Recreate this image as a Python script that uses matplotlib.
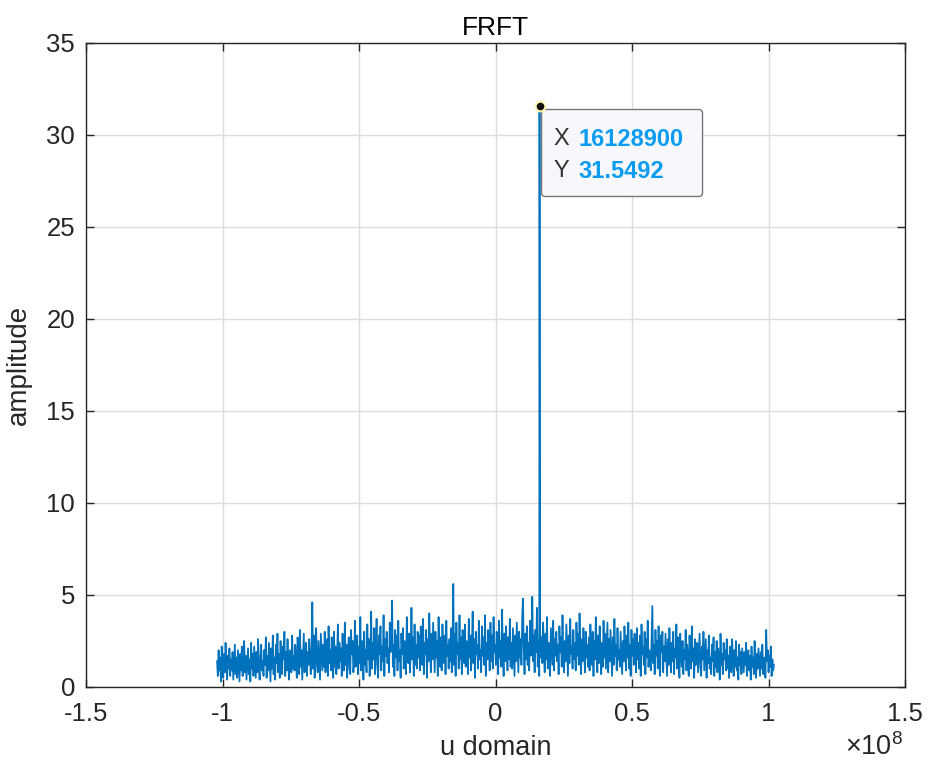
import matplotlib
matplotlib.use("Agg")
import matplotlib.pyplot as plt
from matplotlib.patches import FancyBboxPatch
from matplotlib.transforms import IdentityTransform
import numpy as np

plt.rcParams['font.family'] = ['Liberation Sans', 'DejaVu Sans']

# FRFT amplitude, left to right (u from -1.02e8 to 1.02e8)
noise_amp = [
    1.4, 0.6, 2.0, 0.9, 1.6, 0.3, 2.2, 1.1, 0.5, 1.8, 0.8, 2.4, 1.2, 0.4, 1.7, 1.0, 2.1, 0.6, 1.5, 0.9,
    1.9, 0.4, 1.3, 2.3, 0.7, 1.6, 0.5, 2.0, 1.1, 0.3, 1.8, 0.9, 2.2, 0.6, 1.4, 2.5, 0.8, 1.7, 0.4, 1.2,
    2.1, 0.7, 1.5, 0.3, 2.4, 1.0, 1.8, 0.6, 2.2, 1.3, 0.5, 1.9, 0.8, 2.6, 1.1, 0.4, 1.6, 2.3, 0.9, 1.4,
    0.6, 2.0, 1.2, 2.7, 0.5, 1.7, 0.9, 2.4, 1.4, 0.3, 2.1, 1.0, 2.8, 0.7, 1.6, 0.4, 2.3, 1.3, 2.9, 0.8,
    1.8, 0.5, 2.5, 1.1, 0.7, 2.2, 1.5, 3.0, 0.6, 1.9, 0.9, 2.6, 1.2, 0.4, 2.0, 1.6, 0.8, 2.8, 1.0, 1.7,
    0.9, 2.3, 1.3, 0.5, 2.7, 1.8, 0.7, 3.1, 1.1, 2.0, 0.4, 1.6, 2.9, 0.8, 1.4, 2.4, 0.6, 1.9, 1.2, 2.6,
    1.5, 0.7, 2.2, 4.6, 1.0, 2.8, 0.5, 1.7, 3.2, 1.2, 0.8, 2.5, 1.4, 0.4, 2.9, 1.9, 0.9, 2.3, 1.1, 3.0,
    0.8, 1.8, 2.6, 0.6, 3.3, 1.3, 2.0, 0.9, 2.7, 1.5, 0.5, 3.0, 1.1, 2.2, 0.7, 1.7, 3.4, 1.0, 2.4, 1.4,
    2.1, 0.6, 2.9, 1.6, 0.9, 3.5, 1.2, 2.3, 0.5, 1.9, 2.7, 1.0, 0.7, 3.1, 1.8, 2.5, 0.8, 1.4, 3.6, 1.1,
    1.7, 2.8, 0.7, 2.2, 1.3, 3.8, 0.9, 2.5, 1.6, 0.4, 3.0, 1.2, 2.0, 0.8, 3.4, 1.5, 2.6, 0.6, 1.9, 4.1,
    1.0, 2.4, 1.5, 3.2, 0.7, 2.0, 3.7, 1.2, 0.5, 2.8, 1.8, 3.3, 0.9, 2.2, 1.4, 3.9, 0.6, 2.6, 1.7, 3.0,
    1.3, 2.1, 0.8, 3.5, 1.9, 2.6, 4.7, 1.1, 2.3, 0.6, 3.1, 1.6, 2.8, 0.9, 3.6, 1.4, 2.0, 0.5, 2.9, 1.8,
    3.2, 1.0, 2.5, 1.7, 0.7, 3.8, 2.2, 1.3, 2.9, 0.8, 1.9, 4.3, 1.5, 2.7, 0.6, 3.4, 1.2, 2.3, 1.0, 3.0,
    1.6, 2.8, 0.9, 3.3, 2.0, 1.2, 3.7, 0.7, 2.4, 1.8, 3.1, 0.5, 2.6, 1.4, 4.0, 2.1, 0.8, 2.9, 1.5, 3.5,
    2.2, 0.8, 3.0, 1.6, 2.5, 0.6, 3.8, 1.9, 1.1, 2.7, 0.9, 3.4, 2.0, 1.3, 2.8, 0.7, 3.6, 1.7, 2.3, 1.0,
    2.6, 1.4, 3.2, 0.8, 2.1, 5.6, 1.2, 2.9, 0.6, 3.5, 1.8, 2.4, 1.0, 3.9, 1.5, 2.7, 0.7, 3.1, 2.0, 1.3,
    3.4, 1.1, 2.5, 1.9, 0.7, 3.7, 1.6, 2.8, 0.9, 2.2, 4.1, 1.3, 2.6, 0.5, 3.0, 1.8, 2.3, 1.0, 3.6, 1.5,
    2.0, 0.8, 3.3, 1.7, 2.7, 1.2, 3.9, 0.6, 2.4, 1.5, 3.1, 2.1, 0.9, 3.5, 1.4, 2.8, 1.0, 3.8, 1.9, 2.3,
    1.2, 3.0, 2.2, 0.7, 3.6, 1.6, 2.5, 1.1, 4.2, 1.8, 0.6, 2.9, 1.4, 3.3, 2.0, 0.9, 2.7, 1.5, 3.7, 1.1,
    2.4, 1.0, 3.2, 1.8, 0.6, 2.8, 1.4, 3.5, 2.1, 0.8, 3.0, 1.6, 2.6, 1.2, 3.8, 4.8, 1.9, 0.7, 2.9, 1.5,
    3.3, 1.2, 2.4, 0.9, 3.6, 1.7, 2.2, 4.9, 1.4, 2.8, 0.8, 3.1, 1.9, 4.3, 1.1, 2.5, 0.6, 3.4, 1.6, 2.7,
    1.3, 3.5, 2.0, 0.8, 2.9, 1.5, 3.8, 1.0, 2.4, 1.8, 0.6, 3.2, 2.2, 1.2, 3.6, 0.9, 2.6, 1.7, 3.0, 1.4,
    2.3, 0.7, 3.3, 1.9, 2.7, 1.1, 3.9, 1.6, 0.8, 2.5, 1.4, 3.4, 2.0, 0.6, 2.8, 1.3, 3.7, 1.8, 2.2, 1.0,
    3.1, 1.5, 2.4, 0.9, 3.5, 1.7, 2.9, 1.2, 4.0, 2.1, 0.7, 2.6, 1.4, 3.2, 1.9, 0.8, 3.0, 1.6, 2.3, 1.1,
    2.7, 0.9, 3.4, 1.8, 1.2, 3.0, 0.6, 2.5, 1.5, 3.8, 2.0, 0.8, 2.8, 1.3, 3.3, 1.7, 0.7, 2.4, 1.1, 3.6,
    1.6, 2.9, 1.0, 2.2, 3.5, 0.8, 2.6, 1.4, 3.1, 1.9, 0.6, 2.7, 1.2, 3.7, 1.7, 2.3, 0.9, 3.2, 1.5, 2.0,
    1.1, 3.0, 1.8, 0.7, 2.5, 1.4, 3.3, 2.0, 0.9, 2.8, 1.6, 3.5, 1.0, 2.3, 0.6, 3.1, 1.7, 2.6, 1.2, 2.9,
    2.1, 0.8, 3.2, 1.5, 2.4, 1.0, 2.8, 0.6, 3.4, 1.8, 2.2, 1.2, 3.0, 0.7, 2.6, 1.6, 3.6, 1.1, 2.0, 1.4,
    0.9, 2.7, 4.4, 1.3, 2.3, 0.7, 3.1, 1.7, 2.5, 1.0, 3.3, 1.5, 0.6, 2.8, 1.9, 3.0, 0.8, 2.2, 1.4, 2.9,
    1.7, 0.6, 2.6, 1.2, 3.2, 1.9, 0.8, 2.4, 1.4, 3.0, 0.7, 2.1, 1.6, 3.4, 1.0, 2.7, 1.3, 0.5, 2.9, 1.8,
    1.1, 2.5, 0.7, 2.0, 1.5, 3.1, 0.9, 2.3, 1.3, 0.6, 2.8, 1.7, 1.0, 3.3, 1.4, 2.1, 0.5, 2.6, 1.2, 1.9,
    2.4, 0.8, 1.8, 2.9, 1.1, 0.6, 2.2, 1.5, 3.0, 0.9, 1.7, 2.6, 0.5, 2.0, 1.3, 2.8, 1.0, 1.6, 0.7, 2.3,
    1.4, 2.7, 0.6, 1.9, 1.1, 2.5, 0.8, 2.1, 1.6, 0.4, 2.9, 1.2, 1.8, 0.7, 2.4, 1.5, 2.0, 0.9, 2.6, 1.0,
    1.7, 0.5, 2.2, 1.3, 0.8, 2.6, 1.5, 0.6, 2.0, 1.1, 2.5, 0.9, 1.6, 0.4, 2.3, 1.2, 1.9, 0.7, 2.1, 1.4,
    0.8, 1.9, 1.2, 2.4, 0.6, 1.5, 2.0, 0.9, 1.7, 0.4, 2.2, 1.1, 1.6, 0.7, 2.5, 1.3, 0.5, 1.8, 1.0, 2.1,
    1.3, 0.6, 1.9, 1.0, 2.3, 0.7, 1.6, 1.2, 0.5, 3.1, 1.4, 2.0, 0.8, 1.7, 1.1, 2.2, 0.6, 1.5, 0.9, 1.2,
]
u_start, u_end = -1.02e8, 1.02e8

peak_u = 16128900
peak_amp = 31.5492

xticks = [-1.5e8, -1e8, -0.5e8, 0, 0.5e8, 1e8, 1.5e8]
xtick_labels = ['-1.5', '-1', '-0.5', '0', '0.5', '1', '1.5']
yticks = [0, 5, 10, 15, 20, 25, 30, 35]

# sample positions, with the peak sample put in its place
u = np.linspace(u_start, u_end, len(noise_amp))
amp = np.array(noise_amp)
k = np.searchsorted(u, peak_u)
u = np.insert(u, k, peak_u)
amp = np.insert(amp, k, peak_amp)

line_col = '#0072BD'
axis_col = '#262626'

fig = plt.figure(figsize=(9.3, 7.69), dpi=100)
ax = fig.add_axes([86 / 930, 82 / 769, 819 / 930, 644 / 769])

ax.plot(u, amp, color=line_col, linewidth=1.25)

ax.set_xlim(-1.5e8, 1.5e8)
ax.set_ylim(0, 35)
ax.set_xticks(xticks)
ax.set_xticklabels(xtick_labels)
ax.set_yticks(yticks)

ax.grid(True, color='#dcdcdc', linewidth=1)
ax.set_axisbelow(True)
for s in ax.spines.values():
    s.set_color(axis_col)
    s.set_linewidth(1)
ax.tick_params(direction='in', length=6, width=1, colors=axis_col, labelsize=18.5,
               top=True, right=True)
ax.tick_params(axis='x', pad=11)
ax.tick_params(axis='y', pad=8)

ax.set_title('FRFT', fontsize=19, color='black', pad=6)
ax.set_xlabel('u domain', fontsize=19.5, color=axis_col, labelpad=6)
ax.set_ylabel('amplitude', fontsize=20, color=axis_col, labelpad=10)
fig.text(903 / 930, 22 / 769, r'$\mathregular{\times10^{8}}$', ha='right', va='center',
         fontsize=19.5, color=axis_col)

# data tip on the peak
ax.plot([peak_u], [peak_amp], 'o', markersize=7, markerfacecolor='#111111',
        markeredgecolor='#fff8b0', markeredgewidth=1.5, zorder=5)
px, py = ax.transData.transform((peak_u, peak_amp))
box = FancyBboxPatch((px + 2, py - 90), 161, 87,
                     boxstyle='round,pad=0,rounding_size=4',
                     transform=IdentityTransform(), facecolor='#f8f8fc',
                     edgecolor='#777777', linewidth=1, zorder=4)
ax.add_artist(box)
for dy, name, val in [(-33, 'X', '16128900'), (-65, 'Y', '31.5492')]:
    ax.annotate(name, (peak_u, peak_amp), xytext=(14, dy), textcoords='offset pixels',
                ha='left', va='center', fontsize=17, color='#333333', zorder=6)
    ax.annotate(val, (peak_u, peak_amp), xytext=(39, dy), textcoords='offset pixels',
                ha='left', va='center', fontsize=17, color='#0a9cf0',
                fontweight='bold', zorder=6)

fig.savefig('out.png', dpi=100)
